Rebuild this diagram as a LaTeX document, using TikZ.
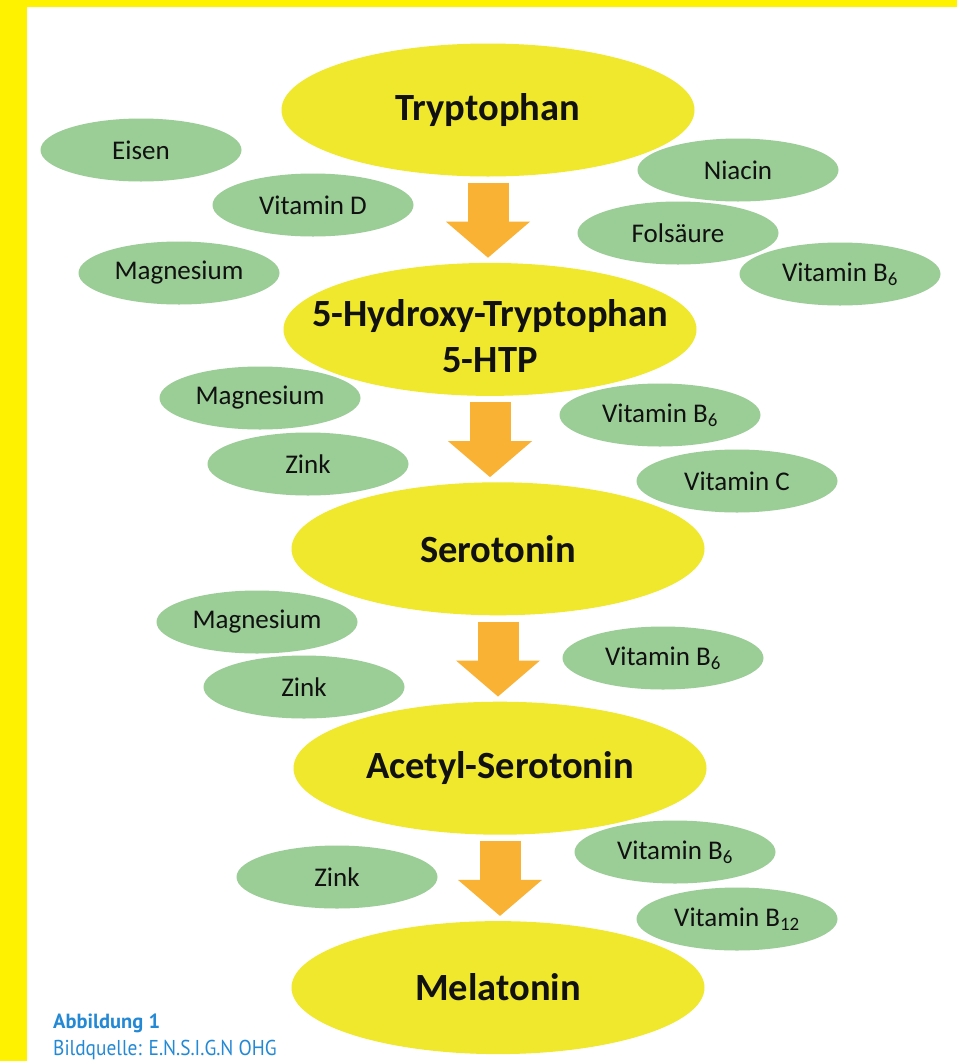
\documentclass[tikz,border=0pt]{standalone}
\usepackage{fontspec}
\setmainfont{Carlito}
\newfontfamily\capfont[FakeStretch=0.9]{PT Sans}
\newfontfamily\capheadfont{PT Sans}
\usetikzlibrary{shapes.geometric,arrows.meta,positioning,calc}
\definecolor{ensFrame}{HTML}{FFF200}
\definecolor{ensStage}{HTML}{EFE82C}
\definecolor{ensLeaf}{HTML}{9BCD96}
\definecolor{ensArrow}{HTML}{F9B233}
\definecolor{ensInk}{HTML}{111111}
\definecolor{ensCaption}{HTML}{2489D4}
\tikzset{
  stage/.style={ellipse, fill=ensStage, minimum width=413pt, minimum height=133pt,
    align=center, text=ensInk, inner sep=2pt, font=\bfseries\fontsize{38.5}{46}\selectfont},
  cofactor/.style={ellipse, fill=ensLeaf, minimum width=201pt, minimum height=63pt,
    text=ensInk, inner sep=0pt, font=\fontsize{27}{30}\selectfont},
  flowarrow/.style={draw=ensArrow, line width=41pt, shorten <=6pt, shorten >=5pt,
    -{Triangle[length=36pt, width=84pt, line width=0pt]}},
  captext/.style={anchor=base west, inner sep=0pt, text=ensCaption,
    font=\capfont\fontsize{21.5}{26}\selectfont}
}

\begin{document}
\begin{tikzpicture}[x=1pt, y=-1pt, node distance=86pt]
\useasboundingbox (0,0) rectangle (957,1061);
\fill[white] (0,0) rectangle (957,1061);
\fill[ensFrame] (0,0) rectangle (27,1061);
\fill[ensFrame] (0,0) rectangle (957,7);

\node[stage] (trp) at (488,110) {Tryptophan};
\node[stage, below=of trp, xshift=2pt, inner sep=-40pt] (htp) {\rule{0pt}{40pt}5-Hydroxy-Tryptophan\\5-HTP};
\node[stage, below=of htp, xshift=8pt] (ser) {Serotonin};
\node[stage, below=of ser, xshift=2pt] (ace) {Acetyl-Serotonin};
\node[stage, below=of ace, xshift=-2pt] (mel) {Melatonin};

\node[cofactor] (eisen) at (141,150) {Eisen};
\node[cofactor] (vitd) at (313,205) {Vitamin D};
\node[cofactor] (mgA) at (179,273) {Magnesium};
\node[cofactor] (niacin) at (738,170) {Niacin};
\node[cofactor] (fols) at (678,233) {Fols\"aure};
\node[cofactor] (bsixA) at (840,274) {Vitamin B\textsubscript{6}};

\node[cofactor] (mgB) at (260,398) {Magnesium};
\node[cofactor] (znB) at (308,464) {Zink};
\node[cofactor] (bsixB) at (660,415) {Vitamin B\textsubscript{6}};
\node[cofactor] (vitc) at (737,481) {Vitamin C};

\node[cofactor] (mgC) at (257,622) {Magnesium};
\node[cofactor] (znC) at (304,687) {Zink};
\node[cofactor] (bsixC) at (663,658) {Vitamin B\textsubscript{6}};

\node[cofactor] (znD) at (337,877) {Zink};
\node[cofactor] (bsixD) at (675,852) {Vitamin B\textsubscript{6}};
\node[cofactor] (btwelve) at (737,919) {Vitamin B\textsubscript{12}};

\foreach \a/\b in {trp/htp, htp/ser, ser/ace, ace/mel}
  \draw[flowarrow] (\a.south) -- (\a.south |- \b.north);

\node[captext, font=\capheadfont\bfseries\fontsize{20.5}{26}\selectfont] (figlabel) at (53,1028) {Abbildung 1};
\node[captext] (figsource) at (53,1055) {Bildquelle: E.N.S.I.G.N OHG};
\end{tikzpicture}
\end{document}
